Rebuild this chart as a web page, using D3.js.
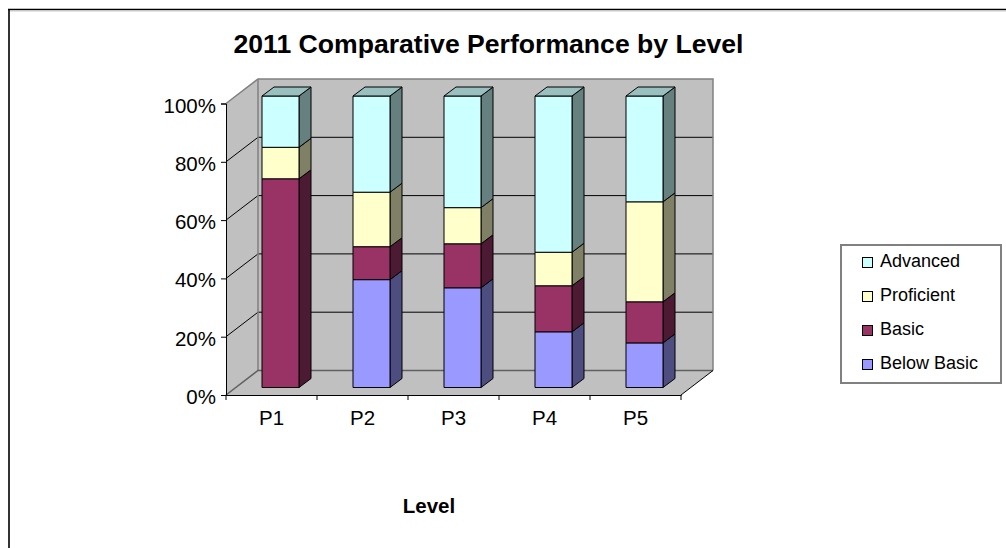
<!DOCTYPE html>
<html><head><meta charset="utf-8"><style>
html,body{margin:0;padding:0;background:#fff;overflow:hidden}
svg{display:block}
text{font-family:"Liberation Sans",Arial,sans-serif;fill:#000}
</style></head><body><div id="c"></div>
<script src="https://cdn.jsdelivr.net/npm/d3@7"></script>
<script>
const categories=["P1","P2","P3","P4","P5"];
const seriesNames=["Below Basic","Basic","Proficient","Advanced"];
const belowBasic=[0,37,34.2,19.1,15.3];
const basic=[71.6,11.3,15.1,15.8,14.1];
const proficient=[10.8,18.7,12.4,11.5,34.3];
const advanced=[17.6,33,38.3,53.6,36.3];
const seriesValues=[belowBasic,basic,proficient,advanced];
const colors=["#9999ff","#993366","#ffffcc","#ccffff"];
const yTicks=[0,20,40,60,80,100];
const titleText="2011 Comparative Performance by Level";
const xTitle="Level";

const W=1006,H=548;
const svg=d3.select("#c").append("svg").attr("width",W).attr("height",H);
svg.append("path").attr("fill","none").attr("stroke","#333").attr("stroke-width",2).attr("d","M9,548V9.5");
svg.append("path").attr("fill","none").attr("stroke","#000").attr("stroke-width",1.5).attr("d","M8,9.5H1006");
svg.append("path").attr("fill","none").attr("stroke","#ccc").attr("stroke-width",1).attr("d","M10,11H1006");

const y=d3.scaleLinear().domain([0,100]).range([395,103.5]);
const x=d3.scaleBand().domain(categories).range([226,681]);
const depth={dx:32,dy:-24.5};
const g=svg.append("g");
g.append("path").attr("d",d3.line()([[226,395],[226,103.5],[258,79],[258,370.5]])+"Z").attr("fill","#c0c0c0").attr("stroke","none");
g.append("rect").attr("x",258).attr("y",79).attr("width",455).attr("height",291.5).attr("fill","#c0c0c0");
g.append("path").attr("d",d3.line()([[226,395],[258,370.5],[713,370.5],[681,395]])+"Z").attr("fill","#c0c0c0");
yTicks.slice(1,-1).forEach(t=>{
  const yy=y(t);
  g.append("path").attr("fill","none").attr("stroke","#000").attr("d",d3.line()([[226,yy],[258,yy+depth.dy],[713,yy+depth.dy]]));
});
g.append("path").attr("fill","none").attr("stroke","#808080").attr("stroke-width",1.5).attr("d",d3.line()([[226,103.5],[258,79],[713,79],[713,370.5]]));
g.append("path").attr("fill","none").attr("stroke","#808080").attr("stroke-width",1.5).attr("d",d3.line()([[258,79],[258,370.5]]));
g.append("path").attr("fill","none").attr("stroke","#606060").attr("stroke-width",1.5).attr("d",d3.line()([[226,395],[258,370.5],[713,370.5]]));
g.append("path").attr("fill","none").attr("stroke","#000").attr("d",d3.line()([[713,370.5],[681,395]]));
const barW=37,off={x:9,y:-7.5},bd={x:12,y:-9};
const shade=(c,k)=>{const r=d3.rgb(c);return d3.rgb(r.r*k,r.g*k,r.b*k).formatHex();};
categories.forEach((cat,i)=>{
  let acc=0;
  const bx=x(cat)+x.bandwidth()/2-barW/2+off.x;
  seriesValues.forEach((vals,s)=>{
    const v=vals[i];
    if(v<=0){return;}
    const y0=y(acc)+off.y,y1=y(acc+v)+off.y;
    acc+=v;
    const bar=g.append("g").attr("stroke","#000").attr("stroke-width",1).attr("stroke-linejoin","round");
    bar.append("path").attr("fill",shade(colors[s],0.5)).attr("d",d3.line()([[bx+barW,y0],[bx+barW,y1],[bx+barW+bd.x,y1+bd.y],[bx+barW+bd.x,y0+bd.y]])+"Z");
    bar.append("rect").attr("x",bx).attr("y",y1).attr("width",barW).attr("height",y0-y1).attr("fill",colors[s]);
    if(s===seriesValues.length-1){
      bar.append("path").attr("fill",shade(colors[s],0.75)).attr("d",d3.line()([[bx,y1],[bx+bd.x,y1+bd.y],[bx+barW+bd.x,y1+bd.y],[bx+barW,y1]])+"Z");
    }
  });
});
const axisFont='"Liberation Sans",Arial,sans-serif';
const yAxis=d3.axisLeft(y).tickValues(yTicks).tickFormat(d=>d+"%").tickSize(5).tickPadding(5);
const ya=svg.append("g").attr("transform","translate(226,0)").call(yAxis);
ya.selectAll("text").attr("font-size",20.5).attr("fill","#000").attr("font-family",axisFont).attr("transform","translate(0,2)");
const xAxis=d3.axisBottom(x).tickSize(0).tickPadding(15);
const xa=svg.append("g").attr("transform","translate(0,395)").call(xAxis);
xa.selectAll("text").attr("font-size",20.5).attr("fill","#000").attr("font-family",axisFont);
d3.range(categories.length+1).forEach(i=>{
  const px=226+i*x.step();
  xa.append("line").attr("x1",px).attr("x2",px).attr("y1",0).attr("y2",5).attr("stroke","#000");
});
svg.append("text").attr("x",488.5).attr("y",52.5).attr("text-anchor","middle").attr("font-size",26.6).attr("font-weight","bold").text(titleText);
svg.append("text").attr("x",429).attr("y",513).attr("text-anchor","middle").attr("font-size",20.5).attr("font-weight","bold").text(xTitle);
const lg=svg.append("g");
lg.append("rect").attr("x",841).attr("y",245).attr("width",160).attr("height",138).attr("fill","#fff").attr("stroke","#808080").attr("stroke-width",2);
seriesNames.slice().reverse().forEach((n,i)=>{
  const cy=262.5+i*34;
  lg.append("rect").attr("x",862.5).attr("y",cy-5).attr("width",10).attr("height",10).attr("fill",colors[3-i]).attr("stroke","#000");
  lg.append("text").attr("x",880).attr("y",cy+4.5).attr("font-size",18).text(n);
});
</script></body></html>
